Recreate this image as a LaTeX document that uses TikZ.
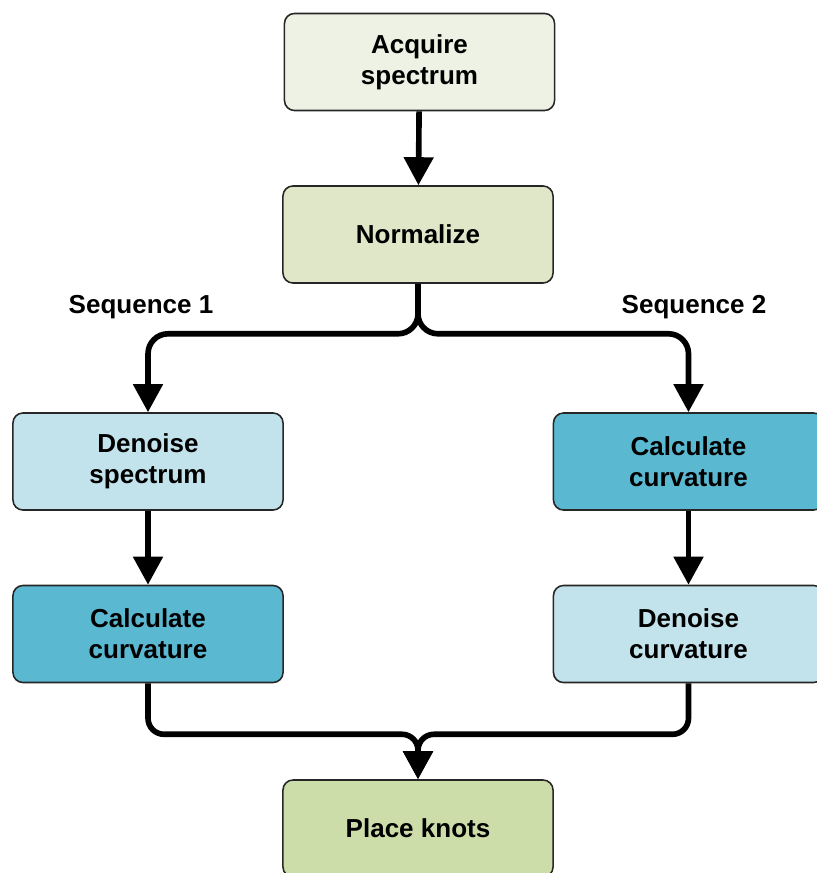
\documentclass[tikz,border=0pt]{standalone}
\usepackage{fontspec}
\setmainfont{Liberation Sans}
\usepackage{tikz}
\usetikzlibrary{arrows.meta, positioning}
\definecolor{acquiregreen}{HTML}{EEF2E4}
\definecolor{normgreen}{HTML}{DFE7C8}
\definecolor{knotgreen}{HTML}{CDDDAA}
\definecolor{denoiseblue}{HTML}{C3E3EC}
\definecolor{curvblue}{HTML}{5AB8D1}
\tikzset{
  % Process boxes
  stepbox/.style={
    rectangle, rounded corners=0.25cm, minimum width=6.75cm, minimum height=2.425cm,
    draw=black!85, fill=#1, text=black, line width=1.1pt,
    align=center, font=\fontsize{18.5}{22}\selectfont\bfseries,
  },
  stepbox/.default={normgreen},
  % Flow arrows
  flowarrow/.style={-{Triangle[length=0.7cm, width=0.72cm]}, line width=4pt, rounded corners=#1},
  flowarrow/.default={0.45cm},
  % Branch labels
  seqlabel/.style={font=\fontsize{18.5}{22}\selectfont\bfseries, text=black},
}
\begin{document}
\begin{tikzpicture}[x=0.025cm, y=-0.025cm]
  \useasboundingbox (0,0) rectangle (816,873);

  % Common trunk
  \node[stepbox=acquiregreen] (acquire) at (419.5, 62) {Acquire\\spectrum};
  \node[stepbox=normgreen] (norm) at (418, 234.5) {Normalize};

  % Sequence 1
  \node[seqlabel] (seq1) at (141, 307) {Sequence 1};
  \node[stepbox=denoiseblue] (denspec) at (148, 461.5) {Denoise\\spectrum};
  \node[stepbox=curvblue] (curvleft) at (148, 634) {Calculate\\curvature};

  % Sequence 2
  \node[seqlabel] (seq2) at (694, 307) {Sequence 2};
  \node[stepbox=curvblue] (curvright) at (688.5, 461.5) {Calculate\\curvature};
  \node[stepbox=denoiseblue] (dencurv) at (688.5, 634) {Denoise\\curvature};

  % Result
  \node[stepbox=knotgreen] (knots) at (418, 828.5) {Place knots};

  % Arrows
  \draw[flowarrow] (acquire) -- (norm);
  \draw[flowarrow=0.5cm] (norm.south) -- ++(0,50) -| (denspec.north);
  \draw[flowarrow=0.5cm] (norm.south) -- ++(0,50) -| (curvright.north);
  \draw[flowarrow] (denspec) -- (curvleft);
  \draw[flowarrow] (curvright) -- (dencurv);
  \draw[flowarrow=0.4cm] (curvleft.south) -- ++(0,51) -| (knots.north);
  \draw[flowarrow=0.4cm] (dencurv.south) -- ++(0,51) -| (knots.north);

\end{tikzpicture}
\end{document}
